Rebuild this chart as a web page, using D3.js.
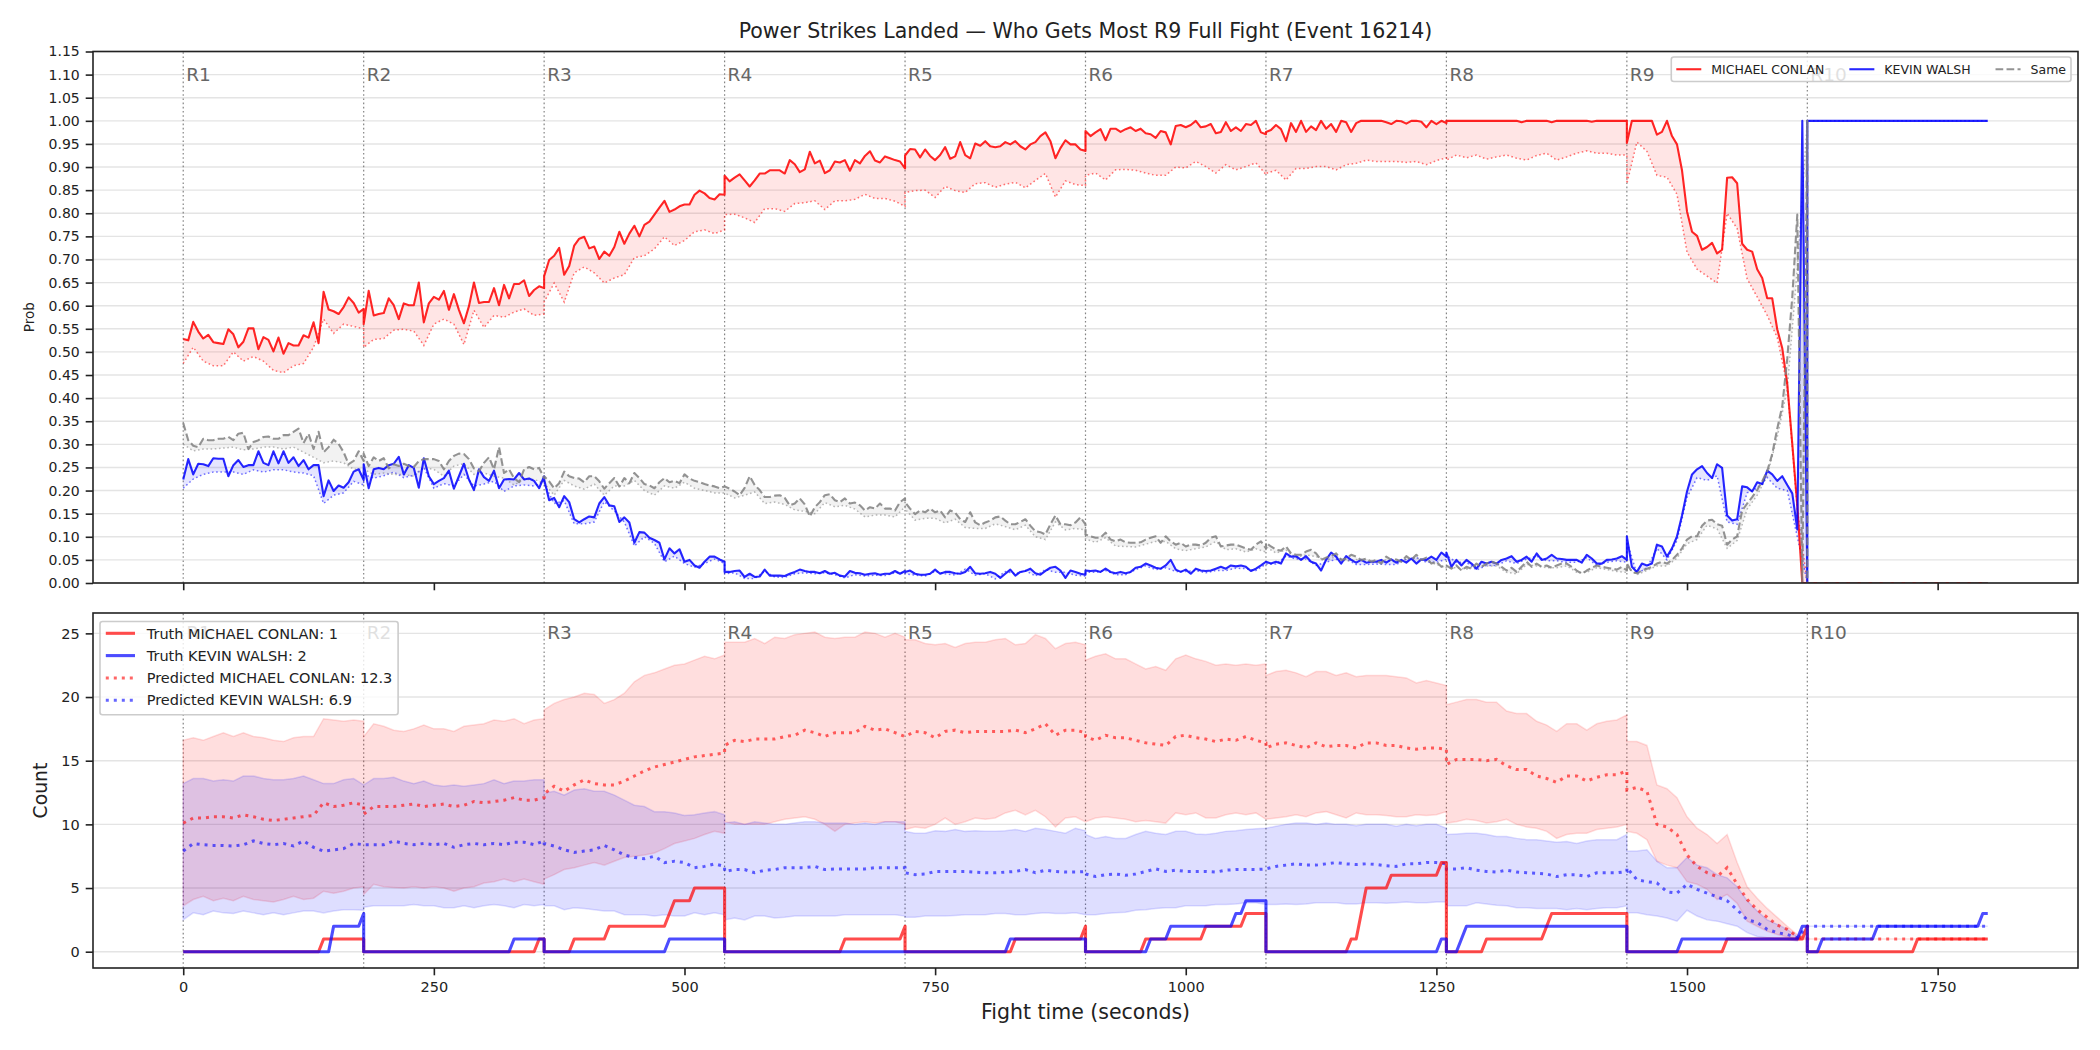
<!DOCTYPE html>
<html>
<head>
<meta charset="utf-8">
<script src="https://cdn.jsdelivr.net/npm/d3@7"></script>
<style>
  body { margin: 0; background: #fff; }
  svg { display: block; font-family: "DejaVu Sans", sans-serif; }
</style>
</head>
<body>
<svg id="chart" width="2100" height="1050"></svg>
<script>
const title = "Power Strikes Landed \u2014 Who Gets Most R9 Full Fight (Event 16214)";
const fighters = ["MICHAEL CONLAN", "KEVIN WALSH"];
const finalTruth = [1, 2];
const finalPredicted = [12.3, 6.9];
const roundLabels = ["R1", "R2", "R3", "R4", "R5", "R6", "R7", "R8", "R9", "R10"];
const roundStarts = [0, 180, 360, 540, 720, 900, 1080, 1260, 1440, 1620];
const probTicks = [0, 0.05, 0.1, 0.15, 0.2, 0.25, 0.3, 0.35, 0.4, 0.45, 0.5, 0.55, 0.6, 0.65, 0.7, 0.75, 0.8, 0.85, 0.9, 0.95, 1, 1.05, 1.1, 1.15];
const countTicks = [0, 5, 10, 15, 20, 25];
const timeTicks = [0, 250, 500, 750, 1000, 1250, 1500, 1750];

// sample spacing inside each round (seconds)
const probStep = 5, bandStep = 10, truthStep = 5;

// top panel: probability lines, one sub-array per round, every 5 s
const conlanProb = [
  [.528,.525,.565,.544,.529,.537,.521,.519,.517,.549,.538,.51,.522,.551,.551,.506,.532,.526,.501,.531,.496,.519,.514,.514,.536,.531,.564,.519,.63,.592,.588,.582,.597,.618,.606,.585,.593],
  [.56,.632,.579,.582,.584,.616,.601,.571,.605,.601,.601,.65,.564,.605,.619,.613,.632,.591,.625,.591,.562,.599,.65,.606,.608,.608,.638,.601,.645,.616,.647,.647,.655,.621,.634,.642,.638],
  [.664,.699,.708,.725,.667,.686,.730,.745,.749,.724,.728,.701,.717,.708,.727,.760,.734,.756,.773,.750,.775,.782,.797,.812,.827,.803,.808,.815,.819,.819,.840,.849,.843,.833,.830,.841,.840],
  [.881,.869,.877,.884,.871,.858,.871,.886,.886,.893,.893,.893,.886,.915,.906,.889,.895,.933,.908,.914,.887,.893,.912,.910,.915,.892,.915,.908,.924,.934,.914,.910,.923,.919,.915,.912,.897],
  [.925,.939,.938,.921,.938,.924,.915,.926,.943,.918,.923,.954,.926,.919,.951,.946,.956,.945,.943,.945,.954,.949,.956,.945,.938,.949,.954,.967,.975,.956,.919,.941,.958,.949,.949,.938,.935],
  [.978,.967,.975,.982,.958,.983,.983,.976,.982,.986,.978,.983,.973,.971,.963,.978,.975,.949,.989,.991,.986,.991,1,.986,.988,.993,.973,.976,.997,.978,.986,.978,.993,.991,1,.975,.971],
  [.976,.98,.991,.982,.956,.995,.976,1,.976,.988,.98,1,.983,.993,.976,1,.997,.976,.995,1,1,1,1,1,.997,.993,1,.999,.994,1,1,.998,.986,1,.993,1,.995],
  [1,1,1,1,1,1,1,1,1,1,1,1,1,1,1,.997,1,1,1,1,1,.997,1,1,1,1,1,1,1,.998,1,1,1,1,1,1,1],
  [.952,1,1,1,1,1,.97,.976,1,.967,.949,.893,.804,.760,.751,.721,.727,.736,.713,.721,.877,.878,.865,.734,.721,.717,.679,.66,.616,.616,.549,.508,.431,.301,.168,0,0],
  [0,0,0,0,0,0,0,0,0,0,0,0,0,0,0,0,0,0,0,0,0,0,0,0,0,0,0,0,0,0,0,0,0,0,0,0,0]
];
const walshProb = [
  [.224,.268,.235,.258,.257,.253,.27,.269,.269,.231,.255,.266,.251,.255,.255,.285,.26,.255,.285,.259,.285,.26,.272,.253,.266,.246,.255,.255,.188,.222,.199,.211,.206,.218,.241,.246,.223],
  [.257,.205,.246,.249,.246,.255,.258,.273,.235,.255,.249,.206,.27,.231,.214,.221,.227,.243,.204,.231,.258,.224,.201,.246,.229,.221,.243,.205,.224,.225,.224,.238,.224,.226,.221,.205,.231],
  [.224,.179,.184,.164,.188,.175,.138,.131,.138,.144,.142,.172,.186,.168,.166,.132,.142,.131,.087,.11,.109,.098,.093,.087,.051,.075,.064,.073,.046,.05,.038,.033,.046,.057,.057,.051,.046],
  [.024,.024,.026,.027,.013,.02,.013,.014,.029,.016,.016,.016,.015,.02,.024,.029,.026,.024,.024,.021,.026,.02,.022,.016,.014,.026,.022,.021,.018,.02,.021,.018,.02,.02,.026,.02,.026],
  [.024,.027,.02,.018,.018,.02,.029,.02,.024,.024,.021,.02,.024,.035,.021,.02,.021,.024,.02,.011,.02,.029,.016,.024,.026,.031,.021,.018,.026,.033,.035,.027,.011,.027,.024,.02,.018],
  [.027,.026,.027,.024,.031,.024,.021,.024,.021,.024,.033,.035,.042,.038,.033,.031,.038,.05,.029,.024,.029,.02,.031,.027,.026,.027,.031,.035,.031,.038,.036,.038,.035,.026,.031,.038,.046],
  [.046,.042,.046,.042,.064,.057,.058,.05,.058,.046,.042,.027,.05,.066,.057,.042,.058,.05,.044,.05,.044,.046,.046,.05,.044,.051,.044,.05,.044,.053,.042,.051,.05,.057,.05,.066,.057],
  [.066,.035,.05,.038,.05,.042,.031,.046,.042,.046,.042,.05,.053,.058,.046,.05,.057,.046,.064,.05,.053,.061,.053,.052,.05,.05,.05,.044,.061,.053,.042,.042,.05,.051,.053,.058,.05],
  [.101,.035,.024,.042,.038,.042,.083,.079,.057,.075,.101,.146,.198,.235,.246,.253,.238,.227,.257,.249,.146,.135,.138,.209,.207,.198,.218,.214,.243,.235,.221,.231,.212,.194,.116,1,0],
  [1,1,1,1,1,1,1,1,1,1,1,1,1,1,1,1,1,1,1,1,1,1,1,1,1,1,1,1,1,1,1,1,1,1,1,1,1]
];
const sameProb = [
  [.346,.309,.297,.294,.312,.309,.309,.312,.312,.316,.309,.323,.325,.29,.305,.309,.316,.317,.312,.312,.32,.32,.327,.334,.303,.323,.29,.327,.283,.294,.31,.301,.283,.257,.264,.285,.264],
  [.28,.253,.272,.264,.27,.248,.257,.253,.258,.253,.251,.264,.268,.268,.268,.264,.246,.264,.275,.28,.279,.268,.248,.242,.26,.272,.246,.294,.238,.246,.227,.218,.246,.251,.246,.249,.227],
  [.231,.22,.205,.216,.241,.231,.227,.226,.218,.231,.231,.22,.204,.216,.227,.209,.227,.216,.238,.227,.214,.211,.205,.218,.227,.218,.221,.216,.235,.226,.221,.218,.214,.211,.209,.205,.209],
  [.209,.204,.198,.19,.206,.231,.212,.201,.186,.186,.189,.19,.184,.168,.172,.183,.17,.144,.164,.175,.19,.192,.179,.175,.183,.172,.174,.168,.157,.164,.161,.172,.161,.161,.157,.175,.183],
  [.175,.161,.149,.157,.153,.161,.153,.157,.142,.157,.152,.138,.132,.153,.131,.125,.131,.135,.142,.144,.135,.127,.127,.132,.138,.124,.112,.11,.105,.127,.146,.127,.127,.125,.131,.142,.127],
  [.105,.101,.098,.098,.109,.094,.09,.094,.088,.087,.087,.088,.094,.098,.101,.087,.101,.09,.083,.087,.079,.083,.083,.081,.087,.098,.101,.079,.081,.083,.083,.079,.075,.072,.083,.09,.075],
  [.087,.079,.072,.07,.079,.064,.061,.061,.068,.072,.064,.05,.055,.058,.064,.05,.053,.061,.057,.05,.053,.046,.05,.042,.057,.05,.051,.046,.058,.05,.061,.05,.055,.042,.046,.035,.038],
  [.038,.031,.038,.027,.035,.031,.042,.035,.042,.046,.042,.035,.027,.033,.024,.035,.046,.035,.042,.035,.038,.033,.038,.042,.042,.035,.027,.02,.027,.033,.038,.035,.033,.031,.029,.035,.027],
  [.042,.024,.021,.027,.031,.035,.042,.046,.042,.05,.061,.075,.094,.101,.101,.124,.135,.137,.127,.124,.083,.094,.101,.157,.172,.186,.201,.22,.242,.279,.334,.383,.486,.619,.797,0,1],
  [0,0,0,0,0,0,0,0,0,0,0,0,0,0,0,0,0,0,0,0,0,0,0,0,0,0,0,0,0,0,0,0,0,0,0,0,0]
];
// lower dotted edges of the shaded bands, every 10 s
const conlanProbLow = [
  [.475,.51,.48,.47,.47,.50,.48,.49,.48,.46,.455,.47,.475,.51,.571,.54,.56,.555,.55],
  [.51,.527,.529,.547,.549,.545,.514,.56,.571,.56,.516,.59,.553,.579,.575,.586,.593,.579,.582],
  [.608,.649,.608,.671,.684,.671,.649,.66,.667,.704,.708,.723,.749,.73,.741,.76,.764,.756,.764],
  [.797,.798,.79,.78,.81,.81,.804,.821,.823,.827,.808,.827,.827,.83,.841,.832,.832,.826,.815],
  [.845,.849,.85,.834,.858,.849,.845,.864,.866,.856,.863,.867,.855,.871,.886,.835,.87,.862,.86],
  [.882,.887,.872,.894,.895,.893,.887,.882,.882,.90,.898,.912,.901,.887,.905,.894,.901,.909,.884],
  [.886,.893,.872,.897,.897,.901,.901,.894,.905,.908,.915,.912,.912,.912,.91,.912,.905,.914,.92],
  [.915,.926,.92,.926,.917,.922,.926,.919,.915,.925,.93,.915,.922,.93,.935,.93,.93,.926,.926],
  [.864,.954,.934,.882,.878,.841,.716,.679,.664,.649,.80,.767,.658,.619,.579,.531,.427,.16,0],
  [0,0,0,0,0,0,0,0,0,0,0,0,0,0,0,0,0,0,0]
];
const walshProbLow = [
  [.205,.225,.235,.24,.24,.24,.235,.245,.24,.245,.245,.24,.238,.232,.172,.19,.195,.22,.212],
  [.235,.227,.232,.24,.228,.233,.25,.205,.215,.21,.235,.21,.214,.22,.198,.21,.212,.21,.22],
  [.215,.172,.178,.128,.128,.132,.176,.156,.132,.08,.1,.086,.046,.058,.042,.034,.042,.052,.042],
  [.02,.022,.01,.01,.025,.013,.012,.02,.022,.02,.022,.018,.011,.018,.015,.017,.016,.022,.022],
  [.02,.017,.015,.025,.02,.017,.03,.017,.02,.009,.025,.02,.027,.015,.029,.023,.023,.017,.015],
  [.023,.023,.027,.018,.018,.029,.037,.029,.033,.025,.025,.027,.022,.027,.027,.032,.031,.027,.041],
  [.041,.041,.058,.052,.052,.038,.045,.051,.052,.04,.04,.041,.04,.04,.052,.055,.045,.045,.051],
  [.06,.045,.045,.028,.038,.038,.048,.042,.052,.058,.048,.048,.045,.045,.055,.038,.045,.048,.045],
  [.09,.02,.033,.075,.05,.092,.185,.228,.222,.232,.132,.127,.195,.205,.228,.205,.2,.1,0],
  [1,1,1,1,1,1,1,1,1,1,1,1,1,1,1,1,1,1,1]
];
const sameProbLow = [
  [.30,.286,.29,.29,.292,.294,.288,.29,.294,.294,.29,.294,.283,.272,.26,.264,.26,.246,.246],
  [.246,.235,.238,.235,.235,.231,.249,.246,.231,.253,.258,.235,.238,.231,.227,.212,.224,.224,.216],
  [.216,.19,.222,.21,.203,.214,.19,.21,.21,.222,.2,.19,.21,.205,.218,.205,.2,.195,.195],
  [.195,.184,.19,.197,.172,.175,.17,.158,.155,.15,.174,.165,.168,.16,.143,.147,.147,.143,.165],
  [.16,.136,.14,.14,.13,.138,.12,.118,.118,.128,.122,.115,.125,.1,.094,.132,.115,.118,.115],
  [.095,.088,.098,.08,.079,.078,.084,.09,.09,.074,.07,.074,.078,.09,.072,.074,.067,.074,.067],
  [.078,.065,.071,.055,.061,.057,.049,.057,.047,.051,.047,.044,.05,.045,.051,.054,.048,.04,.033],
  [.033,.033,.03,.037,.037,.037,.023,.02,.04,.037,.033,.033,.037,.023,.023,.033,.029,.025,.023],
  [.035,.018,.027,.037,.037,.054,.085,.094,.125,.117,.075,.092,.16,.19,.232,.316,.42,.68,1],
  [0,0,0,0,0,0,0,0,0,0,0,0,0,0,0,0,0,0,0]
];

// bottom panel: truth counts per round, one digit per 5 s sample
const truthConlan = [
  "0000000000000000000000000000111111111",
  "0000000000000000000000000000000000011",
  "0000001111111222222222222344445555555",
  "0000000000000000000000001111111111112",
  "0000000000000000000000111111111111112",
  "0000000000001111111111112222222233333",
  "0000000000000000011355555666666666677",
  "0000000011111111111123333333333333333",
  "0000000000000000000011111111111111112",
  "0000000000000000000000111111111111111"
];
const truthWalsh = [
  "0000000000000000000000000000002222223",
  "0000000000000000000000000000001111111",
  "0000000000000000000000000111111111111",
  "0000000000000000000000000000000000000",
  "0000000000000000000001111111111111111",
  "0000000000000111122222222222223344444",
  "0000000000000000000000000000000000011",
  "0001222222222222222222222222222222222",
  "0000000000011111111111111111111111122",
  "0001111111111122222222222222222222233"
];
// predicted counts and their bands, every 10 s
const predConlan = [
  [10.1,10.5,10.5,10.6,10.6,10.5,10.75,10.6,10.4,10.3,10.4,10.5,10.6,10.7,11.7,11.4,11.5,11.7,11.5],
  [10.8,11.4,11.4,11.4,11.5,11.6,11.4,11.5,11.6,11.4,11.5,11.8,11.7,11.8,11.9,12.1,11.9,11.9,12.1],
  [12.4,13.0,12.6,13.1,13.5,13.2,13.1,13.1,13.4,13.8,14.2,14.5,14.7,14.9,15.1,15.3,15.4,15.5,15.6],
  [16.2,16.6,16.5,16.7,16.7,16.7,16.9,17.0,17.4,17.2,16.9,17.2,17.2,17.2,17.7,17.4,17.5,17.2,16.9],
  [16.9,17.3,17.2,16.8,17.3,17.4,17.2,17.3,17.3,17.3,17.3,17.4,17.2,17.5,17.9,17.0,17.4,17.4,17.2],
  [16.9,16.6,17.0,16.8,16.8,16.6,16.4,16.3,16.2,16.9,17.0,16.8,16.7,16.5,16.7,16.6,16.9,16.6,16.4],
  [16.0,16.3,16.4,16.2,16.0,16.4,16.1,16.2,16.2,16.0,16.4,16.4,16.2,16.2,16.0,15.9,16.0,16.0,15.9],
  [14.7,15.1,15.1,15.1,15.0,15.1,14.6,14.3,14.3,13.8,13.6,13.3,13.8,13.8,13.4,13.7,13.9,13.9,14.2],
  [12.7,12.9,12.6,10.0,9.8,9.2,7.6,6.7,6.2,5.9,6.6,5.3,4.1,3.3,2.7,2.1,1.75,1.2,1.0],
  [1,1,1,1,1,1,1,1,1,1,1,1,1,1,1,1,1,1,1]
];
const predWalsh = [
  [7.9,8.5,8.4,8.35,8.35,8.3,8.4,8.7,8.5,8.4,8.5,8.3,8.7,8.2,7.9,8.0,8.1,8.5,8.4],
  [8.4,8.4,8.4,8.7,8.5,8.4,8.5,8.4,8.5,8.2,8.4,8.5,8.4,8.5,8.4,8.6,8.6,8.4,8.7],
  [8.5,8.3,8.0,7.8,7.9,8.0,8.35,8.0,7.6,7.4,7.3,7.5,7.0,7.1,7.0,6.6,6.7,6.9,6.7],
  [6.3,6.45,6.45,6.2,6.4,6.45,6.6,6.6,6.6,6.7,6.45,6.5,6.5,6.5,6.5,6.6,6.6,6.6,6.6],
  [6.2,6.05,6.1,6.3,6.3,6.3,6.3,6.25,6.2,6.2,6.25,6.3,6.45,6.2,6.4,6.3,6.25,6.25,6.3],
  [6.1,5.9,6.05,6.1,6.0,6.1,6.3,6.5,6.3,6.4,6.3,6.3,6.3,6.25,6.4,6.45,6.45,6.45,6.5],
  [6.5,6.7,6.8,6.9,6.8,6.8,6.9,7.0,6.9,6.85,6.9,6.85,6.75,6.7,6.9,6.9,7.0,7.0,6.9],
  [6.5,6.5,6.6,6.4,6.3,6.25,6.4,6.25,6.2,6.15,6.1,5.9,6.05,6.05,5.9,6.2,6.2,6.2,6.3],
  [6.6,5.65,5.5,5.4,4.7,4.6,5.3,4.9,4.6,4.3,4.0,3.3,2.5,2.3,1.75,1.5,1.35,1.1,2.0],
  [2,2,2,2,2,2,2,2,2,2,2,2,2,2,2,2,2,2,2]
];
const conlanHigh = [
  [16.6,16.8,16.6,16.9,17.2,16.9,17.2,16.9,16.8,16.6,16.5,16.8,16.9,16.9,18.3,18.2,18.1,18.2,18.1],
  [16.9,17.9,17.7,17.4,17.3,17.5,17.8,17.5,17.5,17.3,17.7,17.8,17.9,18.2,18.1,18.3,17.9,18.2,18.3],
  [19.0,19.5,19.8,20.0,20.3,20.2,19.5,19.8,20.3,21.2,21.7,21.9,22.2,22.5,22.6,22.9,23.2,23.0,23.3],
  [24.3,24.3,24.3,24.6,24.2,24.7,24.6,24.9,25.0,25.1,24.7,24.6,24.7,24.7,25.1,25.0,24.7,25.0,24.7],
  [24.5,24.5,24.2,24.1,24.2,23.9,24.2,24.3,24.3,24.5,24.6,24.1,24.2,24.9,24.6,23.8,24.2,24.3,24.1],
  [22.9,23.2,23.4,23.0,23.0,22.6,22.2,22.4,22.1,23.0,23.3,23.0,22.8,22.5,22.6,22.5,22.6,22.5,22.6],
  [21.7,22.0,22.1,21.9,21.6,22.0,22.0,21.7,21.9,21.6,21.7,21.7,21.7,21.6,21.5,21.1,21.3,21.1,20.9],
  [19.4,19.6,19.8,19.8,19.6,19.6,18.9,18.7,18.7,18.1,17.8,17.3,17.9,17.9,17.4,17.9,18.1,18.2,18.6],
  [16.5,16.5,16.2,13.1,12.8,12.1,10.6,9.7,9.2,8.5,9.2,7.0,5.1,4.2,3.4,2.7,2.0,1.35,1.0],
  [1,1,1,1,1,1,1,1,1,1,1,1,1,1,1,1,1,1,1]
];
const conlanLow = [
  [3.6,4.1,4.35,4.0,4.2,4.0,4.35,4.1,4.0,3.9,4.1,4.35,4.1,4.2,4.75,4.6,4.75,5.0,5.1],
  [4.5,5.3,5.1,5.05,5.0,5.1,5.0,5.1,5.0,4.75,5.0,5.1,5.4,5.5,5.7,5.5,5.7,5.5,5.3],
  [5.7,6.05,6.45,6.6,6.8,7.0,6.8,7.1,7.4,7.5,7.6,7.75,8.1,8.5,8.7,8.9,9.2,9.45,9.3],
  [10.2,10.0,10.0,10.0,10.0,10.2,10.4,10.5,10.6,10.4,10.0,9.45,10.0,10.1,10.2,10.1,10.2,10.2,10.0],
  [9.6,9.8,9.7,10.0,10.5,10.0,10.2,10.5,10.4,10.5,10.9,11.1,10.75,11.1,10.6,9.8,10.5,10.6,10.2],
  [10.2,10.5,10.6,10.5,10.4,10.2,10.3,10.2,10.1,10.9,10.75,10.9,10.5,10.5,10.75,10.9,10.75,10.9,10.4],
  [10.4,10.5,10.6,10.75,10.6,10.9,11.0,10.75,10.5,10.9,10.75,10.75,10.7,10.6,10.6,10.75,10.7,10.75,11.0],
  [10.1,10.2,10.4,10.3,10.1,10.2,10.4,10.0,9.8,9.7,9.45,8.9,9.2,9.3,9.3,9.6,9.7,9.8,10.0],
  [9.45,9.3,8.8,7.1,6.8,6.6,5.5,5.3,4.9,4.1,4.5,3.8,2.4,2.0,1.6,1.35,1.15,0.9,1.0],
  [1,1,1,1,1,1,1,1,1,1,1,1,1,1,1,1,1,1,1]
];
const walshHigh = [
  [13.2,13.6,13.6,13.4,13.5,13.4,13.8,13.8,13.6,13.5,13.5,13.6,13.8,13.5,13.2,13.2,13.5,13.6,13.1],
  [13.1,13.6,13.6,13.7,13.4,13.2,13.4,13.1,13.0,13.1,13.0,13.1,13.2,13.5,13.2,13.4,13.4,13.5,13.5],
  [12.45,12.6,12.3,12.7,12.8,12.6,12.6,12.3,11.9,11.5,11.4,11.0,11.0,10.9,10.7,10.75,10.9,11.0,10.75],
  [10.1,10.2,10.0,10.2,10.1,10.0,10.0,10.1,10.2,10.2,10.1,10.1,10.1,10.0,10.1,10.0,10.2,10.2,10.2],
  [9.45,9.3,9.3,9.5,9.45,9.6,9.45,9.5,9.45,9.45,9.5,9.6,9.45,9.7,9.6,9.45,9.3,9.7,9.5],
  [9.2,8.9,9.05,8.9,8.9,9.2,9.45,9.3,9.2,9.45,9.45,9.25,9.2,9.3,9.45,9.5,9.6,9.65,9.7],
  [9.7,9.85,10.0,10.1,10.1,10.0,10.1,10.0,10.0,9.9,10.0,10.0,10.0,9.85,10.0,9.9,10.0,10.0,9.7],
  [9.2,9.25,9.3,9.3,9.2,9.05,9.05,8.9,8.8,8.8,8.7,8.6,8.65,8.5,8.7,8.8,8.8,8.8,9.2],
  [7.9,7.9,8.0,7.1,6.6,6.6,7.4,6.8,6.6,6.05,5.8,5.1,4.0,3.2,2.5,2.15,1.75,1.2,2.0],
  [2,2,2,2,2,2,2,2,2,2,2,2,2,2,2,2,2,2,2]
];
const walshLow = [
  [2.5,3.05,2.9,3.2,3.05,3.0,3.2,3.05,2.9,3.05,2.9,3.05,3.2,3.2,3.05,3.2,3.3,3.3,3.25],
  [3.5,3.6,3.6,3.6,3.6,3.7,3.6,3.6,3.45,3.45,3.6,3.45,3.6,3.7,3.6,3.45,3.7,3.6,3.7],
  [3.6,3.6,3.3,3.45,3.4,3.3,3.2,3.2,2.9,2.9,2.9,2.8,2.9,2.8,2.8,3.05,2.9,3.05,2.9],
  [2.5,2.65,2.5,2.8,2.8,2.65,2.7,2.8,2.8,2.8,2.8,2.8,2.9,2.9,2.9,2.9,2.9,2.9,2.8],
  [2.7,2.7,2.8,2.8,2.8,2.85,2.9,2.9,2.9,3.0,3.0,2.9,2.9,3.0,3.05,3.0,3.0,3.05,2.9],
  [2.9,2.9,3.0,3.05,3.1,3.25,3.3,3.4,3.45,3.45,3.6,3.6,3.6,3.7,3.7,3.75,3.85,3.85,3.7],
  [3.7,3.7,3.75,3.7,3.75,3.85,3.85,3.85,3.75,3.75,3.85,3.85,3.8,3.85,3.9,3.85,3.85,3.9,3.9],
  [3.6,3.6,3.6,3.85,3.75,3.65,3.6,3.45,3.45,3.4,3.4,3.4,3.3,3.4,3.3,3.4,3.45,3.45,3.6],
  [3.05,3.05,2.9,2.8,2.65,2.4,3.25,2.8,2.5,2.4,2.2,2.0,1.5,1.2,1.1,1.0,0.95,0.85,2.0],
  [2,2,2,2,2,2,2,2,2,2,2,2,2,2,2,2,2,2,2]
];

// ---------- layout ----------
const svg = d3.select("#chart");
svg.append("rect").attr("width", 2100).attr("height", 1050).attr("fill", "#fff");

const X0 = 93, X1 = 2078;
const top1 = 51.5, bot1 = 583, top2 = 613, bot2 = 968;
const ink = "#222";

const x = d3.scaleLinear().domain([-90, 1890]).range([X0, X1]);
const yP = d3.scaleLinear().domain([0, 1.15]).range([bot1, top1]);
const yC = d3.scaleLinear().domain([-1.28, 26.6]).range([bot2, top2]);

// turn per-round arrays into {t, v} points (round boundaries keep both samples)
function flatten(rounds, step) {
  const pts = [];
  rounds.forEach((vals, r) => {
    Array.from(vals).forEach((v, j) => pts.push({t: roundStarts[r] + j * step, v: +v}));
  });
  return pts;
}
function zip(lo, hi, step) {
  const a = flatten(lo, step), b = flatten(hi, step);
  return a.map((d, i) => ({t: d.t, lo: d.v, hi: b[i].v}));
}

const defs = svg.append("defs");
[["clipTop", top1, bot1], ["clipBot", top2, bot2]].forEach(([id, t, b]) => {
  defs.append("clipPath").attr("id", id).append("rect")
    .attr("x", X0).attr("y", t).attr("width", X1 - X0).attr("height", b - t);
});

function backdrop(y, ticks, yMax) {
  const g = svg.append("g");
  g.selectAll("line.grid").data(ticks).join("line")
    .attr("x1", X0).attr("x2", X1)
    .attr("y1", d => y(d)).attr("y2", d => y(d))
    .attr("stroke", "#e4e4e4").attr("stroke-width", 1.4);
  g.selectAll("line.round").data(roundStarts).join("line")
    .attr("x1", d => x(d)).attr("x2", d => x(d))
    .attr("y1", y.range()[0]).attr("y2", y.range()[1])
    .attr("stroke", "#666").attr("stroke-width", 1.2)
    .attr("stroke-dasharray", "1.6,2.6").attr("opacity", 0.8);
  g.selectAll("text.round").data(roundStarts).join("text")
    .attr("x", d => x(d) + 3)
    .attr("y", y(yMax * 0.98) + 19)
    .attr("font-size", 18.5).attr("fill", "#666")
    .text((d, i) => roundLabels[i]);
}

function styleAxis(g, size) {
  g.attr("font-family", "DejaVu Sans").attr("font-size", size);
  g.select(".domain").remove();
  g.selectAll(".tick line").attr("stroke", ink).attr("stroke-width", 1.6);
  g.selectAll(".tick text").attr("fill", ink);
}

// ---------- top panel ----------
backdrop(yP, probTicks, 1.15);

const lineP = d3.line().x(d => x(d.t)).y(d => yP(d.v));
const gTop = svg.append("g").attr("clip-path", "url(#clipTop)");

const topSeries = [
  {solid: conlanProb, low: conlanProbLow, color: "255,0,0", dash: null},
  {solid: walshProb, low: walshProbLow, color: "0,0,255", dash: null},
  {solid: sameProb, low: sameProbLow, color: "128,128,128", dash: "7.7,3.3"}
];
topSeries.forEach(s => {
  const up = flatten(s.solid, probStep);
  const lo = flatten(s.low, bandStep);
  gTop.append("path")
    .attr("d", lineP(up.concat(lo.slice().reverse())) + "Z")
    .attr("fill", `rgba(${s.color},0.1)`).attr("stroke", "none");
  gTop.append("path").attr("d", lineP(lo))
    .attr("fill", "none").attr("stroke", `rgba(${s.color},0.55)`)
    .attr("stroke-width", 1.5).attr("stroke-dasharray", "1.6,2.6");
});
topSeries.forEach(s => {
  gTop.append("path").attr("d", lineP(flatten(s.solid, probStep)))
    .attr("fill", "none").attr("stroke", `rgba(${s.color},0.85)`)
    .attr("stroke-width", 2.1).attr("stroke-linejoin", "round")
    .attr("stroke-dasharray", s.dash);
});

svg.append("g").attr("transform", `translate(${X0},0)`)
  .call(d3.axisLeft(yP).tickValues(probTicks).tickFormat(d3.format(".2f")).tickSize(7.3).tickPadding(6))
  .call(g => styleAxis(g, 14));
svg.append("g").attr("transform", `translate(0,${bot1})`)
  .call(d3.axisBottom(x).tickValues(timeTicks).tickFormat("").tickSize(7.3))
  .call(g => styleAxis(g, 14));
svg.append("rect").attr("x", X0).attr("y", top1).attr("width", X1 - X0).attr("height", bot1 - top1)
  .attr("fill", "none").attr("stroke", ink).attr("stroke-width", 1.6);

// ---------- bottom panel ----------
backdrop(yC, countTicks, 26.6);

const lineC = d3.line().x(d => x(d.t)).y(d => yC(d.v));
const areaC = d3.area().x(d => x(d.t)).y0(d => yC(d.lo)).y1(d => yC(d.hi));
const gBot = svg.append("g").attr("clip-path", "url(#clipBot)");

[[conlanLow, conlanHigh, "255,0,0"], [walshLow, walshHigh, "0,0,255"]].forEach(([lo, hi, c]) => {
  gBot.append("path").attr("d", areaC(zip(lo, hi, bandStep)))
    .attr("fill", `rgba(${c},0.13)`).attr("stroke", `rgba(${c},0.13)`).attr("stroke-width", 1.5);
});
[[predConlan, "255,0,0"], [predWalsh, "0,0,255"]].forEach(([p, c]) => {
  gBot.append("path").attr("d", lineC(flatten(p, bandStep)))
    .attr("fill", "none").attr("stroke", `rgba(${c},0.6)`)
    .attr("stroke-width", 3).attr("stroke-dasharray", "3,5");
});
[[truthConlan, "255,0,0"], [truthWalsh, "0,0,255"]].forEach(([tr, c]) => {
  gBot.append("path").attr("d", lineC(flatten(tr, truthStep)))
    .attr("fill", "none").attr("stroke", `rgba(${c},0.7)`)
    .attr("stroke-width", 3.1).attr("stroke-linejoin", "round");
});

svg.append("g").attr("transform", `translate(${X0},0)`)
  .call(d3.axisLeft(yC).tickValues(countTicks).tickSize(7.3).tickPadding(6))
  .call(g => styleAxis(g, 14.5));
svg.append("g").attr("transform", `translate(0,${bot2})`)
  .call(d3.axisBottom(x).tickValues(timeTicks).tickFormat(d3.format("d")).tickSize(7.3).tickPadding(6))
  .call(g => styleAxis(g, 14.5));
svg.append("rect").attr("x", X0).attr("y", top2).attr("width", X1 - X0).attr("height", bot2 - top2)
  .attr("fill", "none").attr("stroke", ink).attr("stroke-width", 1.6);

// ---------- texts ----------
svg.append("text").attr("x", (X0 + X1) / 2).attr("y", 38).attr("text-anchor", "middle")
  .attr("font-size", 20.5).attr("fill", ink).text(title);
svg.append("text").attr("transform", `translate(34,${(top1 + bot1) / 2}) rotate(-90)`)
  .attr("text-anchor", "middle").attr("font-size", 13.5).attr("fill", ink).text("Prob");
svg.append("text").attr("transform", `translate(47,${(top2 + bot2) / 2}) rotate(-90)`)
  .attr("text-anchor", "middle").attr("font-size", 18.8).attr("fill", ink).text("Count");
svg.append("text").attr("x", (X0 + X1) / 2).attr("y", 1019).attr("text-anchor", "middle")
  .attr("font-size", 20.5).attr("fill", ink).text("Fight time (seconds)");

// ---------- legends ----------
function measure(txt, size) {
  const t = svg.append("text").attr("font-size", size).text(txt);
  const w = t.node().getComputedTextLength();
  t.remove();
  return w;
}

// top: one row, three columns, anchored to the upper right
(function () {
  const fs = 12.5, pad = 5, hl = 25, tp = 10, cs = 25;
  const items = [
    {label: fighters[0], color: "rgba(255,0,0,0.85)", dash: null},
    {label: fighters[1], color: "rgba(0,0,255,0.85)", dash: null},
    {label: "Same", color: "rgba(128,128,128,0.85)", dash: "7.7,3.3"}
  ];
  items.forEach(d => d.w = measure(d.label, fs));
  const total = pad * 2 + d3.sum(items, d => hl + tp + d.w) + cs * (items.length - 1);
  const right = X1 - 7, bx = right - total, by = top1 + 5.5, bh = 24.5;
  const g = svg.append("g");
  g.append("rect").attr("x", bx).attr("y", by).attr("width", total).attr("height", bh)
    .attr("rx", 2.5).attr("fill", "rgba(255,255,255,0.8)").attr("stroke", "#cccccc").attr("stroke-width", 1.6);
  let cx = bx + pad;
  const cy = by + bh / 2;
  items.forEach(d => {
    g.append("line").attr("x1", cx).attr("x2", cx + hl).attr("y1", cy).attr("y2", cy)
      .attr("stroke", d.color).attr("stroke-width", 2.1).attr("stroke-dasharray", d.dash);
    g.append("text").attr("x", cx + hl + tp).attr("y", cy + 4.5).attr("font-size", fs)
      .attr("fill", ink).text(d.label);
    cx += hl + tp + d.w + cs;
  });
})();

// bottom: four rows in the upper left
(function () {
  const fs = 14.5, pad = 5.8, hl = 29.2, tp = 11.7, rowH = 22.3;
  const items = [
    {label: `Truth ${fighters[0]}: ${finalTruth[0]}`, color: "rgba(255,0,0,0.7)", dash: null, w: 3.1},
    {label: `Truth ${fighters[1]}: ${finalTruth[1]}`, color: "rgba(0,0,255,0.7)", dash: null, w: 3.1},
    {label: `Predicted ${fighters[0]}: ${finalPredicted[0]}`, color: "rgba(255,0,0,0.6)", dash: "3,5", w: 3},
    {label: `Predicted ${fighters[1]}: ${finalPredicted[1]}`, color: "rgba(0,0,255,0.6)", dash: "3,5", w: 3}
  ];
  const tw = d3.max(items, d => measure(d.label, fs));
  const bx = X0 + 7, by = top2 + 8.5;
  const bw = pad * 2 + hl + tp + tw, bh = rowH * 4 + 4;
  const g = svg.append("g");
  g.append("rect").attr("x", bx).attr("y", by).attr("width", bw).attr("height", bh)
    .attr("rx", 2.5).attr("fill", "rgba(255,255,255,0.8)").attr("stroke", "#cccccc").attr("stroke-width", 1.6);
  items.forEach((d, i) => {
    const cy = by + 11.8 + i * rowH;
    g.append("line").attr("x1", bx + pad).attr("x2", bx + pad + hl).attr("y1", cy).attr("y2", cy)
      .attr("stroke", d.color).attr("stroke-width", d.w).attr("stroke-dasharray", d.dash);
    g.append("text").attr("x", bx + pad + hl + tp).attr("y", cy + 5.2).attr("font-size", fs)
      .attr("fill", ink).text(d.label);
  });
})();
</script>
</body>
</html>
